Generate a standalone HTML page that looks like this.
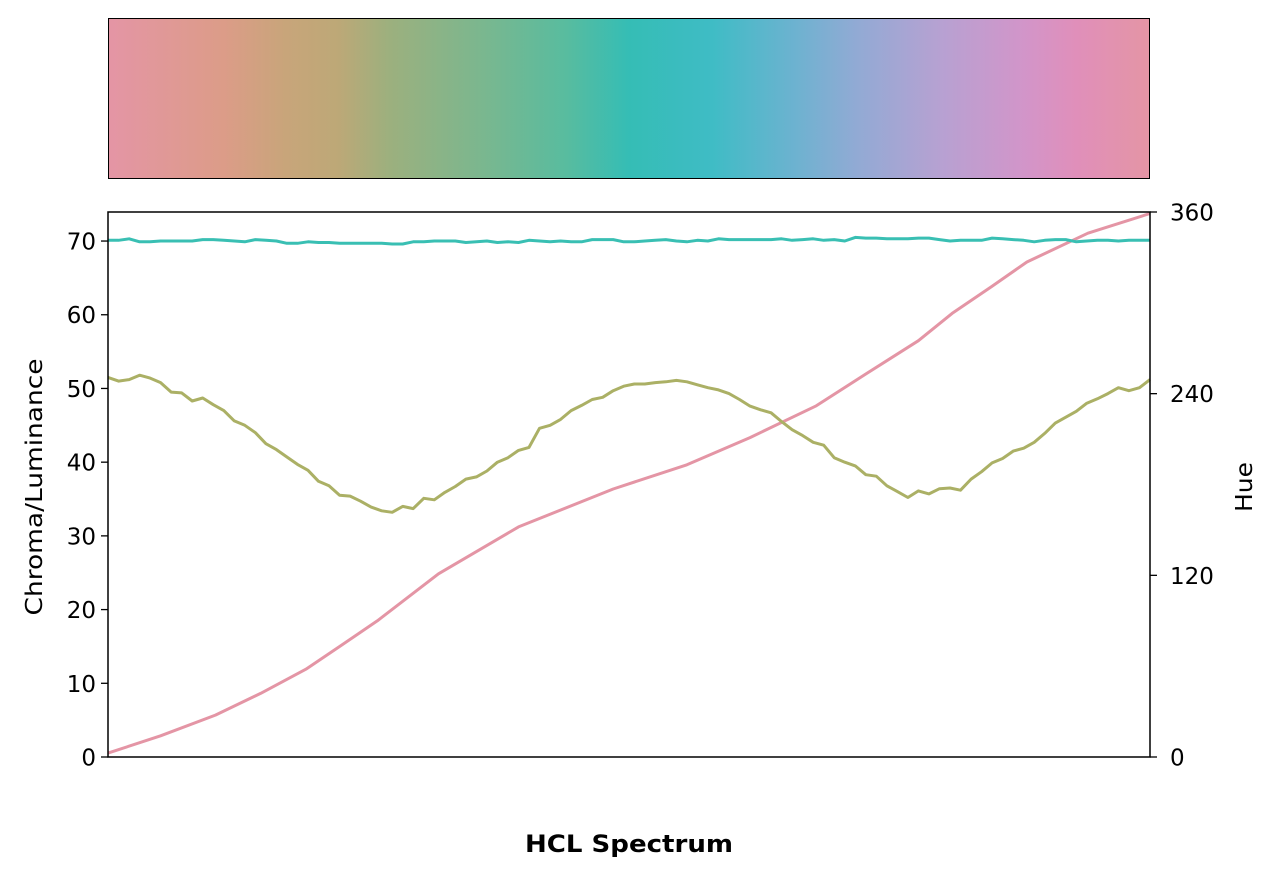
<!DOCTYPE html>
<html><head><meta charset="utf-8">
<style>
html,body{margin:0;padding:0;background:#fff;}
body{width:1275px;height:877px;position:relative;overflow:hidden;font-family:"DejaVu Sans","Liberation Sans",sans-serif;}
#cbar{position:absolute;left:108px;top:18px;width:1040px;height:159px;border:1.5px solid #000;
background:linear-gradient(to right,#e495a5 0%,#dc9c88 11%,#c8a57a 17%,#bda877 22%,#9cb07e 27%,#7ab78f 36%,#58bc9f 44%,#35bdb5 50%,#3fbcc5 58%,#6db2d0 66%,#92aad4 72%,#b7a1d2 80%,#d295c9 88%,#e08fba 93%,#e495a5 100%);}
svg{position:absolute;left:0;top:0;}
text{font-family:"DejaVu Sans","Liberation Sans",sans-serif;}
</style></head><body>
<div id="cbar"></div>
<svg id="chart" width="1275" height="877"></svg>
<script>
const lumValues=[51.5,51,51.2,51.8,51.4,50.8,49.5,49.4,48.3,48.7,47.8,47,45.6,45,44,42.5,41.7,40.7,39.7,38.9,37.4,36.8,35.5,35.4,34.7,33.9,33.4,33.2,34,33.7,35.1,34.9,35.9,36.7,37.7,38,38.8,40,40.6,41.6,42,44.6,45,45.8,47,47.7,48.5,48.8,49.7,50.3,50.6,50.6,50.8,50.9,51.1,50.9,50.5,50.1,49.8,49.3,48.5,47.6,47.1,46.7,45.5,44.4,43.6,42.7,42.3,40.6,40,39.5,38.3,38.1,36.8,36,35.2,36.1,35.7,36.4,36.5,36.2,37.7,38.7,39.9,40.5,41.5,41.9,42.7,43.9,45.3,46.1,46.9,48,48.6,49.3,50.1,49.7,50.1,51.2];
const chromaValues=[70.1,70.1,70.3,69.9,69.9,70,70,70,70,70.2,70.2,70.1,70,69.9,70.2,70.1,70,69.7,69.7,69.9,69.8,69.8,69.7,69.7,69.7,69.7,69.7,69.6,69.6,69.9,69.9,70,70,70,69.8,69.9,70,69.8,69.9,69.8,70.1,70,69.9,70,69.9,69.9,70.2,70.2,70.2,69.9,69.9,70,70.1,70.2,70,69.9,70.1,70,70.3,70.2,70.2,70.2,70.2,70.2,70.3,70.1,70.2,70.3,70.1,70.2,70,70.5,70.4,70.4,70.3,70.3,70.3,70.4,70.4,70.2,70,70.1,70.1,70.1,70.4,70.3,70.2,70.1,69.9,70.1,70.2,70.2,69.9,70,70.1,70.1,70,70.1,70.1,70.1];
const hueX=[0,5,10.2,14.5,18.8,22,25.6,31.4,39,48,55,61,67.3,72,77,80.2,84,87.3,93.1,99];
const hueValues=[2.6,14,27.7,42,58,73,90,121,152,177,193,211,232,253,275,293,311,327,346,359];
const yTicksLeft=[0,10,20,30,40,50,60,70];
const yTicksRight=[0,120,240,360];
const NS="http://www.w3.org/2000/svg";
const svg=document.getElementById('chart');
const X0=108,X1=1150,Y0=757,Y1=212;
const xS=i=>X0+(X1-X0)*i/99;
const yL=v=>Y0-(Y0-Y1)*v/73.94;
const yR=v=>Y0-(Y0-Y1)*v/360;
function mk(tag,attrs,text){const e=document.createElementNS(NS,tag);for(const k in attrs)e.setAttribute(k,attrs[k]);if(text!==undefined)e.textContent=text;svg.appendChild(e);return e;}
function line(xs,ys,color,name){
  const p=mk('polyline',{points:xs.map((x,i)=>xS(x).toFixed(1)+','+ys[i].toFixed(1)).join(' '),fill:'none',stroke:color,'stroke-width':3,'stroke-linejoin':'round'});
  
  
}
line(hueX,hueValues.map(yR),'#e495a5','hue-line');
line(lumValues.map((_,i)=>i),lumValues.map(yL),'#abb065','luminance-line');
line(chromaValues.map((_,i)=>i),chromaValues.map(yL),'#39bfb3','chroma-line');
const fr=mk('rect',{x:X0,y:Y1,width:X1-X0,height:Y0-Y1,fill:'none',stroke:'#000','stroke-width':1.5});


yTicksLeft.forEach(v=>{
  mk('line',{x1:X0-7,x2:X0,y1:yL(v),y2:yL(v),stroke:'#000','stroke-width':1.3});
  const t=mk('text',{x:X0-12,y:yL(v)+8.5,'text-anchor':'end','font-size':23,fill:'#000'},v);
  
  
});
yTicksRight.forEach(v=>{
  mk('line',{x1:X1,x2:X1+7,y1:yR(v),y2:yR(v),stroke:'#000','stroke-width':1.3});
  const t=mk('text',{x:X1+20,y:yR(v)+8.5,'font-size':23,fill:'#000'},v);
  
  
});
const lt=mk('text',{x:42,y:487,'text-anchor':'middle','font-size':23,textLength:257,lengthAdjust:'spacingAndGlyphs',transform:'rotate(-90 42 487)'},'Chroma/Luminance');


const rt=mk('text',{x:1252,y:487,'text-anchor':'middle','font-size':23,textLength:50,lengthAdjust:'spacingAndGlyphs',transform:'rotate(-90 1252 487)'},'Hue');


const xt=mk('text',{x:629,y:852,'text-anchor':'middle','font-size':24,'font-weight':'bold',textLength:208,lengthAdjust:'spacingAndGlyphs'},'HCL Spectrum');


</script>
</body></html>
